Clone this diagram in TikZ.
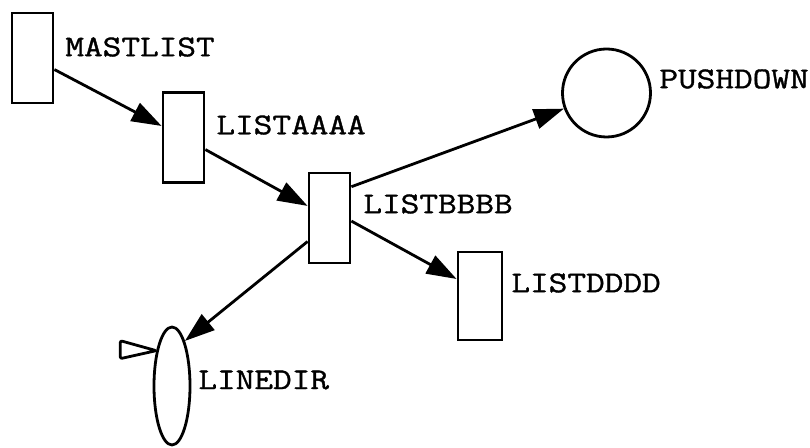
\documentclass[tikz,border=0pt]{standalone}
\usepackage{fontspec}
\newfontfamily\tagfont[FakeStretch=1.2,FakeBold=1.2]{Latin Modern Mono}
\usetikzlibrary{arrows.meta, shapes.geometric, positioning}

\begin{document}
\begin{tikzpicture}[x=0.5pt,y=-0.5pt,->,>={Triangle[length=15pt,width=10pt]},line width=1.4pt]
	\tikzstyle{box}=[draw,rectangle,minimum width=20.5pt,minimum height=45pt,inner sep=0pt]
	\tikzstyle{tag}=[anchor=west,inner sep=0pt,font=\tagfont\fontsize{15.1}{18}\selectfont]
	\useasboundingbox (0,0) rectangle (810,448);

	\node[box] (MASTLIST) at (32.5,58) {};
	\node[box] (LISTAAAA) at (183.5,137.5) {};
	\node[box] (LISTBBBB) at (329.5,218) {};
	\node[box,minimum width=22pt,minimum height=44pt] (LISTDDDD) at (480,296) {};
	\node[draw,circle,minimum size=44pt,inner sep=0pt] (PUSHDOWN) at (606.5,93) {};
	\node[draw,ellipse,minimum width=18pt,minimum height=59pt,inner sep=0pt] (LINEDIR) at (172,386) {};

	\node[tag] (MASTLISTtag) at (64,47) {MASTLIST};
	\node[tag] (LISTAAAAtag) at (215,125) {LISTAAAA};
	\node[tag] (LISTBBBBtag) at (362,204) {LISTBBBB};
	\node[tag] (LISTDDDDtag) at (510,283) {LISTDDDD};
	\node[tag] (PUSHDOWNtag) at (658,79) {PUSHDOWN};
	\node[tag] (LINEDIRtag) at (197,380) {LINEDIR};

	\path (MASTLIST) edge (LISTAAAA)
	(LISTAAAA) edge (LISTBBBB)
	(LISTBBBB.55) edge (PUSHDOWN)
	(LISTBBBB.-8) edge (LISTDDDD.144)
	(LISTBBBB.227) edge (LINEDIR.74);

	% small flag on the left of LINEDIR
	\draw[-,line join=round,rounded corners=1pt] (LINEDIR.114) -- ++(-36,-10) -- ++(0,18) -- cycle;
\end{tikzpicture}
\end{document}
